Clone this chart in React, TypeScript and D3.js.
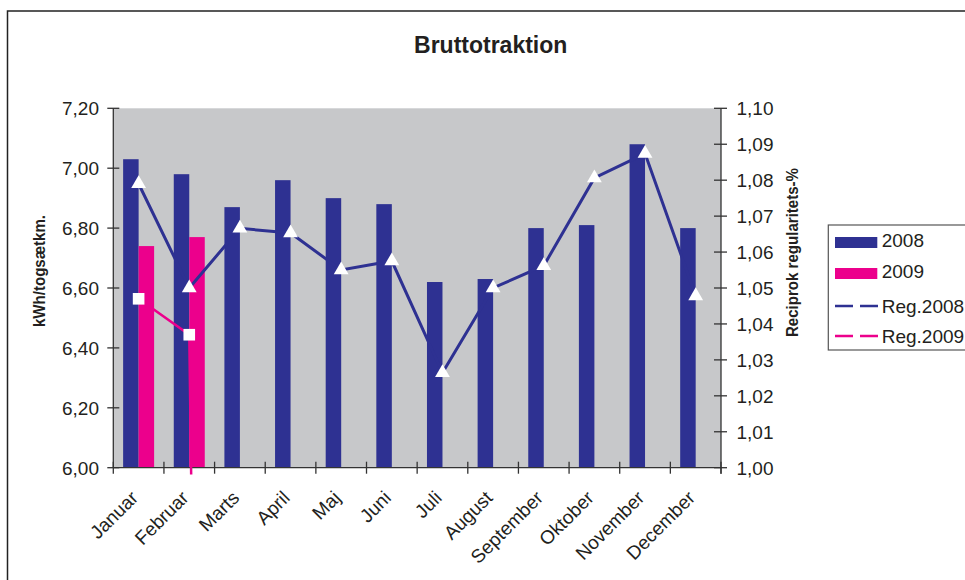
import React from "react";
import * as d3 from "d3";

const months = [
  "Januar", "Februar", "Marts", "April", "Maj", "Juni",
  "Juli", "August", "September", "Oktober", "November", "December",
];
const series = ["2008", "2009"];
const bars2008 = [7.03, 6.98, 6.87, 6.96, 6.9, 6.88, 6.62, 6.63, 6.8, 6.81, 7.08, 6.8];
const bars2009: (number | null)[] = [6.74, 6.77, null, null, null, null, null, null, null, null, null, null];
const reg2008 = [1.079, 1.05, 1.0666, 1.0653, 1.055, 1.0575, 1.0264, 1.05, 1.0562, 1.0806, 1.0874, 1.0478];
const reg2009: (number | null)[] = [1.047, 1.037, 0, null, null, null, null, null, null, null, null, null];
const leftTicks = [6.0, 6.2, 6.4, 6.6, 6.8, 7.0, 7.2];
const rightTicks = [1.0, 1.01, 1.02, 1.03, 1.04, 1.05, 1.06, 1.07, 1.08, 1.09, 1.1];

const BLUE = "#2E3192";
const PINK = "#EC008C";
const FONT = "'Liberation Sans', Arial, sans-serif";
const TXT = "#231F20";

export default function App() {
  const width = 965;
  const height = 580;
  const plot = { left: 113.3, right: 721, top: 108.3, bottom: 467.7 };

  const x = d3
    .scaleBand<string>()
    .domain(months)
    .range([plot.left, plot.right])
    .paddingInner(0.388)
    .paddingOuter(0.194);
  const x1 = d3.scaleBand<string>().domain(series).range([0, x.bandwidth()]);
  const step = x.step();
  const yL = d3.scaleLinear().domain([6, 7.2]).range([plot.bottom, plot.top]);
  const yR = d3.scaleLinear().domain([1, 1.1]).range([plot.bottom, plot.top]);
  const fmt = (v: number, d: number) => v.toFixed(d).replace(".", ",");
  const cx = (m: string) => (x(m) as number) + x.bandwidth() / 2;

  const line = d3
    .line<number | null>()
    .defined((d) => d != null)
    .x((_, i) => cx(months[i]))
    .y((d) => yR(d as number));

  const tri = d3.symbol().type(d3.symbolTriangle).size(95)();
  const sq = d3.symbol().type(d3.symbolSquare).size(135)();

  const boundaries = d3.range(months.length + 1).map((i) => plot.left + i * step);

  return (
    <svg
      width={width}
      height={height}
      style={{ position: "absolute", left: 0, top: 0, background: "#fff" }}
      fontFamily={FONT}
    >
      <defs>
        <clipPath id="plotclip">
          <rect x={plot.left} y={0} width={plot.right - plot.left} height={474.5} />
        </clipPath>
      </defs>
      <rect x={7.5} y={11} width={1000} height={1000} fill="#fff" stroke="#222" strokeWidth={1.5} />

      <text x={490.7} y={52.7} textAnchor="middle" fontWeight="bold" fontSize={23} fill={TXT}>
        Bruttotraktion
      </text>

      <rect
        x={plot.left}
        y={plot.top}
        width={plot.right - plot.left}
        height={plot.bottom - plot.top}
        fill="#C7C8CA"
      />

      {months.map((m, i) => (
        <g key={m}>
          <rect
            x={(x(m) as number) + (x1("2008") as number)}
            y={yL(bars2008[i])}
            width={x1.bandwidth()}
            height={plot.bottom - yL(bars2008[i])}
            fill={BLUE}
          />
          {bars2009[i] != null && (
            <rect
              x={(x(m) as number) + (x1("2009") as number)}
              y={yL(bars2009[i] as number)}
              width={x1.bandwidth()}
              height={plot.bottom - yL(bars2009[i] as number)}
              fill={PINK}
            />
          )}
        </g>
      ))}

      {/* axes */}
      <g stroke="#333" strokeWidth={1.3}>
        <line x1={plot.left} x2={plot.left} y1={plot.top} y2={plot.bottom} />
        <line x1={plot.right} x2={plot.right} y1={plot.top} y2={plot.bottom + 6} />
        <line x1={plot.left} x2={plot.right} y1={plot.bottom} y2={plot.bottom} />
        {leftTicks.map((t) => (
          <line key={t} x1={plot.left - 6} x2={plot.left + 6} y1={yL(t)} y2={yL(t)} />
        ))}
        {rightTicks.map((t) => (
          <line key={t} x1={plot.right - 7} x2={plot.right + 6} y1={yR(t)} y2={yR(t)} />
        ))}
        {boundaries.map((b, i) => (
          <line key={i} x1={b} x2={b} y1={plot.bottom - 6} y2={plot.bottom + 6} />
        ))}
      </g>

      {/* regularity lines */}
      <g clipPath="url(#plotclip)" fill="none">
        <path d={line(reg2008) || ""} stroke={BLUE} strokeWidth={3} />
        <path d={line(reg2009) || ""} stroke={PINK} strokeWidth={2.5} />
      </g>
      {reg2008.map((v, i) => (
        <path key={i} d={tri || ""} transform={`translate(${cx(months[i])},${yR(v)})`} fill="#fff" />
      ))}
      {reg2009.map((v, i) =>
        v != null && v >= 1 ? (
          <path key={i} d={sq || ""} transform={`translate(${cx(months[i])},${yR(v)})`} fill="#fff" />
        ) : null
      )}

      {/* tick labels */}
      <g fontSize={19} fill={TXT}>
        {leftTicks.map((t) => (
          <text key={t} x={99} y={yL(t)} dy="0.36em" textAnchor="end">
            {fmt(t, 2)}
          </text>
        ))}
        {rightTicks.map((t) => (
          <text key={t} x={736.5} y={yR(t)} dy="0.36em">
            {fmt(t, 2)}
          </text>
        ))}
        {months.map((m) => (
          <text key={m} transform={`translate(${cx(m) + 0.5},${499}) rotate(-45)`} textAnchor="end">
            {m}
          </text>
        ))}
      </g>

      {/* axis titles */}
      <text
        transform={`translate(44.5,271) rotate(-90)`}
        textAnchor="middle"
        fontWeight="bold"
        fontSize={16}
        textLength={112}
        lengthAdjust="spacingAndGlyphs"
        fill={TXT}
      >
        kWh/togsætkm.
      </text>
      <text
        transform={`translate(797.5,252.5) rotate(-90)`}
        textAnchor="middle"
        fontWeight="bold"
        fontSize={16}
        textLength={169}
        lengthAdjust="spacingAndGlyphs"
        fill={TXT}
      >
        Reciprok regularitets-%
      </text>

      {/* legend */}
      <g>
        <rect x={828.3} y={225} width={200} height={125} fill="#fff" stroke="#555" strokeWidth={1.2} />
        <rect x={835} y={237} width={42.3} height={11} fill={BLUE} />
        <rect x={835} y={268} width={42.3} height={11} fill={PINK} />
        <line x1={835} x2={878} y1={306} y2={306} stroke={BLUE} strokeWidth={2.5} strokeDasharray="18,7" />
        <line x1={835} x2={878} y1={336} y2={336} stroke={PINK} strokeWidth={2.5} strokeDasharray="18,7" />
        <g fontSize={19} fill={TXT}>
          <text x={881.7} y={247}>2008</text>
          <text x={881.7} y={278}>2009</text>
          <text x={881.7} y={312.5}>Reg.2008</text>
          <text x={881.7} y={342.5}>Reg.2009</text>
        </g>
      </g>
    </svg>
  );
}
